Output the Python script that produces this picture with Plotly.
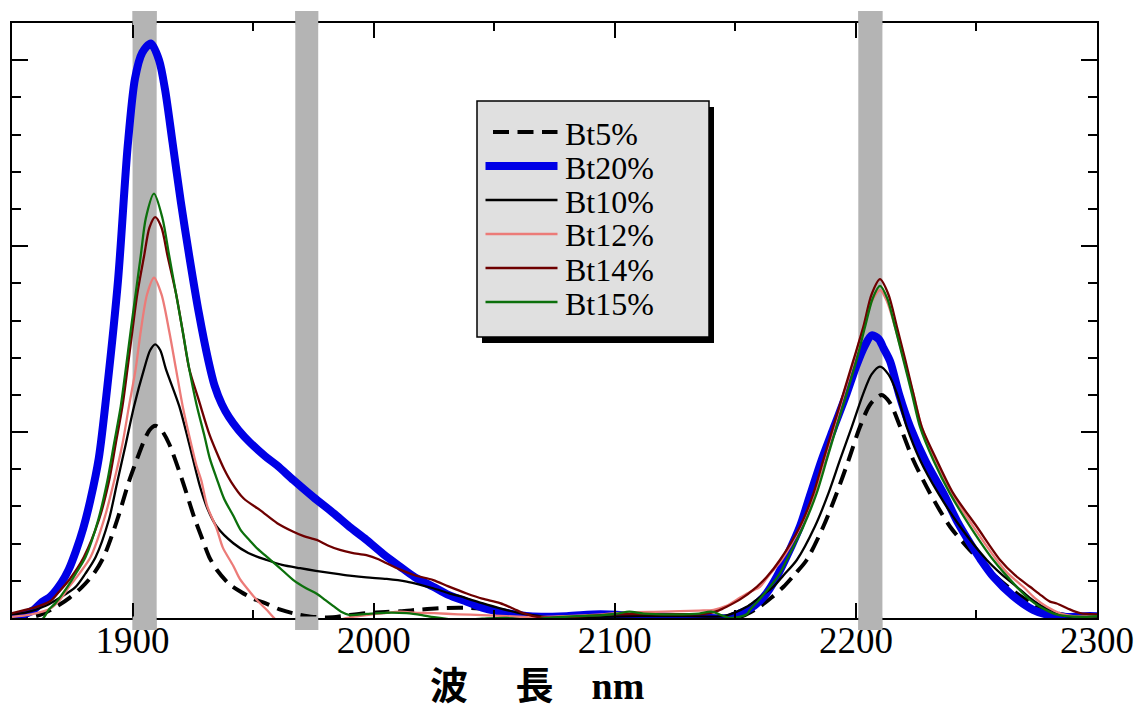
import plotly.graph_objects as go

# ---------------- data (wavelength nm, absorbance-like units) ----------------
series_names = ["Bt5%", "Bt20%", "Bt10%", "Bt12%", "Bt14%", "Bt15%"]

x_bt5 = [1850, 1858, 1863, 1869, 1874, 1879, 1884, 1888, 1893.7, 1898.5, 1902, 1905, 1907, 1909.4, 1912,
         1915.2, 1920.8, 1925.6, 1928.5, 1931.8, 1935, 1940, 1945, 1950, 1955, 1961, 1967, 1975, 1983, 1990,
         1997, 2005, 2011, 2020, 2030, 2040, 2048, 2055, 2062, 2070, 2090, 2110, 2130, 2145, 2152,
         2160, 2165, 2170, 2175, 2179.6, 2186.5, 2192, 2197, 2201.7, 2206, 2210.7, 2214, 2218.4, 2223.8, 2230.8,
         2239, 2246, 2252, 2260, 2268, 2274, 2282, 2290, 2300]
y_bt5 = [-0.05, 0.02, 0.12, 0.33, 0.55, 0.83, 1.2, 1.64, 2.65, 3.67, 4.3, 4.8, 5.05, 5.17, 5.05,
         4.68, 3.67, 2.7, 2.2, 1.64, 1.29, 0.92, 0.7, 0.52, 0.4, 0.23, 0.12, 0.03, 0.02, 0.08,
         0.13, 0.16, 0.18, 0.23, 0.27, 0.27, 0.22, 0.12, 0.03, 0.0, 0.02, 0.03, 0.02, 0.0, 0.03,
         0.3, 0.55, 0.84, 1.2, 1.56, 2.46, 3.35, 4.25, 5.14, 5.75, 6.0, 5.8, 5.14, 4.25, 3.35,
         2.46, 1.92, 1.5, 1.0, 0.6, 0.35, 0.15, 0.05, 0.03]

x_bt20 = [1850, 1855, 1859, 1862.5, 1866, 1870.5, 1873.5, 1876.5, 1879.5, 1882.5, 1886, 1889.5, 1894, 1898, 1901,
          1904, 1907.6, 1911, 1913.5, 1916.6, 1920, 1923.5, 1927.5, 1931.5, 1934, 1937, 1940, 1944, 1948.7, 1955,
          1960, 1966.7, 1975, 1983.3, 1990, 1997, 2004, 2011, 2017, 2024.7, 2031, 2038.6, 2045, 2052.4, 2060, 2066,
          2080, 2094, 2110, 2125, 2140, 2147, 2152, 2156, 2160, 2163, 2167.2, 2172, 2176.8, 2181, 2185.8,
          2191, 2196.2, 2200, 2203.5, 2206.6, 2209.5, 2211.5, 2214.2, 2218, 2222.5, 2229, 2236.3, 2242, 2247.4, 2252,
          2257, 2265, 2273.5, 2280, 2287.5, 2295, 2300]
y_bt20 = [0.0, 0.1, 0.22, 0.43, 0.58, 0.95, 1.3, 1.8, 2.4, 3.17, 4.3, 6.2, 9.1, 12.7, 14.5,
          15.2, 15.45, 15.0, 14.2, 12.78, 11.2, 9.74, 8.2, 6.9, 6.25, 5.75, 5.4, 5.05, 4.72, 4.35,
          4.1, 3.71, 3.25, 2.82, 2.45, 2.1, 1.72, 1.38, 1.1, 0.84, 0.62, 0.44, 0.28, 0.17, 0.08, 0.04,
          0.05, 0.1, 0.05, 0.03, 0.0, 0.0, 0.13, 0.25, 0.45, 0.67, 1.11, 1.75, 2.46, 3.3, 4.25,
          5.15, 6.04, 6.75, 7.3, 7.6, 7.5, 7.25, 6.9, 6.0, 5.14, 4.2, 3.35, 2.6, 2.01, 1.55,
          1.11, 0.6, 0.22, 0.08, 0.03, 0.05, 0.05]

x_bt10 = [1850, 1856, 1864, 1870, 1876.3, 1880.5, 1884.7, 1890.2, 1893.7, 1897.2, 1900.6, 1904.8, 1907.3, 1909.4, 1911.5,
          1913.8, 1919.4, 1923.5, 1927.9, 1931, 1934.9, 1941.8, 1948, 1955.6, 1962, 1969.5, 1976, 1983.3, 1990, 1997,
          2005.4, 2013.7, 2019, 2024.7, 2031, 2038.6, 2045, 2052.4, 2060, 2066, 2072, 2090, 2110, 2130, 2145,
          2150, 2154.7, 2158, 2161, 2165.8, 2170, 2175.5, 2183, 2188.6, 2193.4, 2198.3, 2203.1, 2206.5, 2210, 2213.5,
          2217, 2221.1, 2226.6, 2234.2, 2243.2, 2254.3, 2260, 2266.7, 2272, 2277.7, 2283, 2287, 2293, 2300]
y_bt10 = [0.1, 0.15, 0.33, 0.55, 0.83, 1.2, 1.64, 2.65, 3.67, 4.68, 5.69, 6.7, 7.2, 7.36, 7.2,
          6.7, 5.69, 4.68, 3.55, 2.95, 2.46, 2.01, 1.75, 1.56, 1.43, 1.34, 1.27, 1.2, 1.14, 1.09,
          1.05, 0.98, 0.9, 0.8, 0.67, 0.53, 0.4, 0.26, 0.14, 0.08, 0.02, 0.03, 0.05, 0.05, 0.05,
          0.15, 0.3, 0.45, 0.6, 0.84, 1.15, 1.56, 2.46, 3.35, 4.25, 5.14, 6.04, 6.55, 6.76, 6.55,
          6.04, 5.14, 4.25, 3.35, 2.46, 1.56, 1.2, 0.84, 0.55, 0.3, 0.15, 0.05, 0.03, 0.02]

x_bt12 = [1850, 1858, 1865.8, 1870, 1873.6, 1878, 1882.6, 1888.2, 1892.3, 1895.8, 1898.5, 1901.3, 1903.4, 1906, 1908.9,
          1912, 1915.2, 1918, 1920.8, 1923.5, 1926.5, 1928.5, 1931, 1934.9, 1937.4, 1941.8, 1944.5, 1948.7, 1952, 1955.6,
          1958.4, 1962, 1970, 1980, 1986, 1990.2, 1997, 2004, 2011, 2018, 2025, 2035, 2045, 2055, 2065,
          2080, 2095, 2105, 2120, 2135, 2141, 2146, 2152, 2156, 2160.2, 2164, 2169.2, 2177.1, 2182.8, 2186.9,
          2191, 2195.1, 2199.3, 2203.1, 2206.5, 2210, 2213, 2216.2, 2219.9, 2223.8, 2227.3, 2232.8, 2239.7, 2248.7, 2258.4,
          2263, 2269.4, 2274, 2279.2, 2285, 2290, 2300]
y_bt12 = [0.03, 0.1, 0.25, 0.5, 0.83, 1.2, 1.64, 2.65, 3.67, 4.68, 5.69, 6.7, 7.71, 8.7, 9.15,
          8.7, 7.71, 6.7, 5.69, 4.9, 4.1, 3.7, 3.0, 2.4, 1.9, 1.4, 1.05, 0.7, 0.45, 0.22,
          0.02, -0.2, -0.3, -0.2, -0.05, 0.02, 0.08, 0.13, 0.17, 0.14, 0.13, 0.1, 0.08, 0.05, 0.02,
          0.05, 0.1, 0.15, 0.17, 0.2, 0.22, 0.32, 0.55, 0.7, 0.84, 1.15, 1.56, 2.46, 3.35, 4.25,
          5.14, 6.04, 6.94, 7.83, 8.5, 8.82, 8.5, 7.83, 6.94, 6.04, 5.14, 4.25, 3.35, 2.46, 1.56,
          1.2, 0.84, 0.55, 0.3, 0.12, 0.05, 0.05]

x_bt14 = [1850, 1858.7, 1865.8, 1869.4, 1874, 1879.8, 1886.1, 1890.2, 1893, 1895.8, 1897.9, 1899.9, 1902, 1904.8, 1907,
          1909.4, 1912, 1914.5, 1918, 1920.8, 1923.5, 1927.5, 1931.8, 1934.9, 1938, 1941, 1946, 1952.9, 1960, 1966.7,
          1971, 1976.4, 1981, 1986, 1991, 1997, 2002, 2005.4, 2011, 2017, 2024.7, 2031, 2038.6, 2045, 2052.4, 2058,
          2062, 2069, 2080, 2100, 2120, 2138, 2143, 2146.4, 2152, 2158.9, 2163, 2168.5, 2176.8, 2182.4, 2186.5,
          2190.6, 2194.8, 2199, 2203.1, 2206.5, 2210, 2213.5, 2217, 2220.5, 2223.8, 2227.3, 2233.5, 2240.4, 2250.1, 2259.8,
          2266, 2272.2, 2277, 2280.5, 2283.3, 2288, 2293, 2300]
y_bt14 = [0.13, 0.27, 0.45, 0.7, 1.05, 1.64, 2.65, 3.67, 4.68, 5.69, 6.7, 7.71, 8.73, 9.74, 10.5,
          10.78, 10.5, 9.74, 8.73, 7.71, 6.7, 5.85, 4.95, 4.45, 4.0, 3.65, 3.22, 2.9, 2.55, 2.32,
          2.2, 2.1, 1.95, 1.83, 1.75, 1.69, 1.58, 1.47, 1.3, 1.15, 1.02, 0.85, 0.66, 0.52, 0.4, 0.25,
          0.13, 0.02, 0.02, 0.1, 0.1, 0.12, 0.2, 0.3, 0.5, 0.84, 1.1, 1.56, 2.46, 3.35, 4.25,
          5.14, 6.04, 6.94, 7.83, 8.7, 9.11, 8.7, 7.83, 6.94, 6.04, 5.14, 4.25, 3.35, 2.46, 1.56,
          1.15, 0.84, 0.6, 0.44, 0.39, 0.25, 0.13, 0.1]

x_bt15 = [1850, 1858, 1863, 1865.3, 1868, 1872.9, 1876.5, 1880.5, 1885.8, 1889.5, 1892.3, 1895.1, 1897.2, 1899.2, 1901.3,
          1903.4, 1905.5, 1908.9, 1912.4, 1915.2, 1918, 1920.8, 1923.5, 1926.5, 1929.8, 1932, 1934.9, 1938, 1941.8, 1945,
          1948.7, 1952, 1955.6, 1961, 1966.7, 1972, 1976.4, 1980, 1983.3, 1986.5, 1990.2, 1997, 2004, 2013.7, 2020,
          2025, 2035, 2045, 2055, 2065, 2072, 2085, 2095, 2101, 2106, 2112, 2125, 2135, 2140, 2148,
          2154.7, 2156.1, 2160, 2164.4, 2168.5, 2171.3, 2178.2, 2183.7, 2187.9, 2192, 2196.2, 2200.3, 2203.8, 2207, 2210,
          2213, 2216.2, 2219.7, 2223.2, 2226.6, 2232.1, 2239, 2247.4, 2257, 2266.7, 2272, 2276.4, 2282, 2287.5, 2295,
          2300]
y_bt15 = [-0.4, -0.2, 0.0, 0.23, 0.4, 0.83, 1.2, 1.64, 2.65, 3.67, 4.68, 5.69, 6.7, 7.71, 8.73,
          9.74, 10.75, 11.41, 10.75, 9.74, 8.73, 7.71, 6.7, 5.75, 4.9, 4.3, 3.75, 3.2, 2.75, 2.35,
          2.08, 1.85, 1.65, 1.35, 1.02, 0.8, 0.65, 0.48, 0.32, 0.17, 0.08, 0.11, 0.14, 0.13, 0.08,
          0.02, -0.05, -0.02, 0.0, -0.05, 0.0, 0.05, 0.08, 0.12, 0.17, 0.12, 0.1, 0.12, 0.17, 0.0,
          0.1, 0.22, 0.5, 0.84, 1.2, 1.56, 2.46, 3.35, 4.25, 5.14, 6.04, 6.94, 7.83, 8.6, 8.93,
          8.6, 7.83, 6.94, 6.04, 5.14, 4.25, 3.35, 2.46, 1.56, 0.84, 0.5, 0.3, 0.12, 0.05, 0.03,
          0.05]

# highlighted wavelength bands (nm)
bands = [(1900, 1910), (1967.5, 1977), (2201, 2211)]

x_ticks = [1900, 2000, 2100, 2200, 2300]

# ---------------- styles ----------------
xs = [x_bt5, x_bt20, x_bt10, x_bt12, x_bt14, x_bt15]
ys = [y_bt5, y_bt20, y_bt10, y_bt12, y_bt14, y_bt15]
colors = ["#000000", "#0000e6", "#000000", "#ec7b78", "#6e0000", "#0c700c"]
widths = [4, 8, 2.3, 2.3, 2.3, 2.3]
dashes = ["16px,8.5px", "solid", "solid", "solid", "solid", "solid"]

W, H = 1140, 706
ML, MR, MT, MB = 12, 43, 23, 88
PW, PH = W - ML - MR, H - MT - MB


def px(xp):
    return (xp - ML) / PW


def py(yp):
    return (H - MB - yp) / PH


fig = go.Figure()
for name, x, y, c, w, d in zip(series_names, xs, ys, colors, widths, dashes):
    fig.add_trace(go.Scatter(x=x, y=y, mode="lines", name=name,
                             line=dict(color=c, width=w, dash=d, shape="spline", smoothing=0.8)))

shapes = []
for b0, b1 in bands:
    shapes.append(dict(type="rect", xref="x", yref="paper", x0=b0, x1=b1, y0=py(630), y1=py(11),
                       fillcolor="#b4b4b4", line=dict(width=0), layer="below"))
    # cover the frame lines where the band crosses them
    shapes.append(dict(type="rect", xref="x", yref="paper", x0=b0, x1=b1, y0=py(630), y1=py(616.5),
                       fillcolor="#b4b4b4", line=dict(width=0), layer="above"))
    shapes.append(dict(type="rect", xref="x", yref="paper", x0=b0, x1=b1, y0=py(25), y1=py(11),
                       fillcolor="#b4b4b4", line=dict(width=0), layer="above"))

# legend box with drop shadow
shapes.append(dict(type="rect", xref="paper", yref="paper", x0=px(482), x1=px(714), y0=py(343), y1=py(107),
                   fillcolor="black", line=dict(width=0), layer="above"))
shapes.append(dict(type="rect", xref="paper", yref="paper", x0=px(477), x1=px(709), y0=py(337), y1=py(101),
                   fillcolor="#e0e0e0", line=dict(color="black", width=1.5), layer="above"))

annotations = []
row_y0, row_step = 132, 34
for i, (name, c, w, d) in enumerate(zip(series_names, colors, widths, dashes)):
    yl = row_y0 + i * row_step
    x_start = 493 if d != "solid" else 485.5
    shapes.append(dict(type="line", xref="paper", yref="paper", x0=px(x_start), x1=px(557.5),
                       y0=py(yl), y1=py(yl), line=dict(color=c, width=w, dash=d), layer="above"))
    annotations.append(dict(text=name, xref="paper", yref="paper", x=px(563), y=py(yl + 1.5),
                            xanchor="left", yanchor="middle", showarrow=False,
                            font=dict(family="Liberation Serif", size=32, color="black")))

# x-axis title
annotations.append(dict(text="波　 長　nm", xref="paper", yref="paper", x=px(537), y=py(686),
                        xanchor="center", yanchor="middle", showarrow=False,
                        font=dict(family="Liberation Serif, Noto Sans CJK JP", size=38, color="black",
                                  weight="bold")))

fig.update_layout(
    width=W, height=H,
    margin=dict(l=ML, r=MR, t=MT, b=MB, autoexpand=False),
    paper_bgcolor="white", plot_bgcolor="white",
    showlegend=False,
    shapes=shapes, annotations=annotations,
)

fig.update_xaxes(
    range=[1850, 2300], tickmode="array", tickvals=x_ticks, ticktext=[str(t) for t in x_ticks],
    ticks="inside", ticklen=15, tickwidth=2, tickcolor="black", automargin=False,
    ticklabelstandoff=-11,
    showline=True, linewidth=2, linecolor="black", mirror="ticks",
    showgrid=False, zeroline=False,
    tickfont=dict(family="Liberation Serif", size=37, color="black"),
    minor=dict(ticks="inside", ticklen=8, tickwidth=2, tickcolor="black", dtick=50, tick0=1850, showgrid=False),
)
fig.update_yaxes(
    range=[0, 16], tickmode="linear", tick0=0, dtick=5, automargin=False,
    ticks="inside", ticklen=16, tickwidth=2, tickcolor="black", showticklabels=False,
    showline=True, linewidth=2, linecolor="black", mirror="ticks",
    showgrid=False, zeroline=False,
    minor=dict(ticks="inside", ticklen=9, tickwidth=2, tickcolor="black", dtick=1, tick0=0, showgrid=False),
)

fig.write_html("out.html")
